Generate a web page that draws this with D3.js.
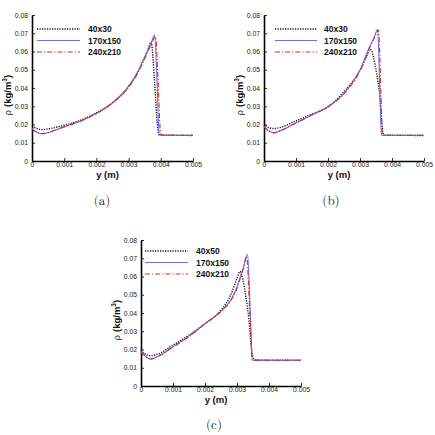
<!DOCTYPE html>
<html>
<head>
<meta charset="utf-8">
<script src="https://cdn.jsdelivr.net/npm/d3@7"></script>
<style>
  body { margin: 0; background: #fff; }
  svg { display: block; }
</style>
</head>
<body>
<div id="fig"></div>
<script>
// ---- data (x in m, rho in kg/m^3) ----
var yTicks = [0, 0.01, 0.02, 0.03, 0.04, 0.05, 0.06, 0.07, 0.08];
var xTicks = [0, 0.001, 0.002, 0.003, 0.004, 0.005];

var legendA = ["40x30", "170x150", "240x210"];
var legendB = ["40x30", "170x150", "240x210"];
var legendC = ["40x50", "170x150", "240x210"];

var aCoarse = [[0,0.019],[0.00015,0.0178],[0.0003,0.0172],[0.0005,0.0176],[0.001,0.0196],[0.0015,0.0223],[0.002,0.0264],[0.0025,0.0319],[0.003,0.0407],[0.0033,0.049],[0.0035,0.057],[0.0036,0.061],[0.0037,0.0652],[0.0038,0.045],[0.0039,0.019],[0.00395,0.0142],[0.005,0.014]];
var aMid = [[0,0.0178],[0.0001,0.0163],[0.0002,0.0154],[0.0003,0.015],[0.0004,0.0151],[0.0006,0.0161],[0.001,0.0187],[0.0015,0.0218],[0.002,0.026],[0.0025,0.0319],[0.003,0.041],[0.0033,0.0494],[0.0035,0.057],[0.0037,0.0648],[0.00381,0.069],[0.00388,0.045],[0.00395,0.0147],[0.004,0.0141],[0.005,0.0141]];
var aFine = [[0,0.0176],[0.0001,0.0162],[0.0002,0.0153],[0.0003,0.015],[0.0004,0.0152],[0.0006,0.0162],[0.001,0.0188],[0.0015,0.0219],[0.002,0.0261],[0.0025,0.0318],[0.003,0.0405],[0.0033,0.0488],[0.0035,0.056],[0.0037,0.0638],[0.00384,0.068],[0.0039,0.05],[0.004,0.0145],[0.0041,0.0141],[0.005,0.0141]];

var bCoarse = [[0,0.0205],[0.0001,0.0187],[0.0003,0.0178],[0.0005,0.0183],[0.001,0.022],[0.0015,0.0256],[0.002,0.0297],[0.0025,0.038],[0.003,0.0498],[0.0032,0.057],[0.00332,0.0612],[0.00352,0.048],[0.0036,0.0388],[0.00373,0.015],[0.0038,0.0141],[0.005,0.014]];
var bMid = [[0,0.019],[0.0001,0.0172],[0.0002,0.016],[0.0003,0.0154],[0.0005,0.0165],[0.001,0.0209],[0.0015,0.0253],[0.002,0.0297],[0.0025,0.037],[0.003,0.0498],[0.0033,0.0626],[0.00345,0.068],[0.00355,0.0722],[0.00362,0.0388],[0.00367,0.0141],[0.005,0.0141]];
var bFine = [[0,0.0188],[0.0001,0.0171],[0.0002,0.0159],[0.0003,0.0155],[0.0005,0.0166],[0.001,0.0208],[0.0015,0.0252],[0.002,0.0296],[0.0025,0.0368],[0.003,0.0494],[0.0033,0.062],[0.00345,0.0675],[0.00358,0.0718],[0.00365,0.04],[0.0037,0.0141],[0.005,0.0141]];

var cCoarse = [[0,0.0197],[0.0001,0.0178],[0.0003,0.0166],[0.0005,0.0173],[0.001,0.0224],[0.0015,0.0279],[0.002,0.0342],[0.0025,0.0415],[0.0028,0.0497],[0.003,0.059],[0.00309,0.0628],[0.00327,0.0497],[0.00337,0.037],[0.00348,0.017],[0.00356,0.0142],[0.005,0.0141]];
var cMid = [[0,0.0188],[0.0001,0.017],[0.0002,0.0155],[0.0003,0.0148],[0.0005,0.016],[0.001,0.0215],[0.0015,0.0273],[0.002,0.0342],[0.0025,0.041],[0.0028,0.047],[0.003,0.0543],[0.0031,0.0597],[0.0032,0.065],[0.00333,0.0721],[0.00342,0.0388],[0.00348,0.0142],[0.005,0.0141]];
var cFine = [[0,0.0186],[0.0001,0.0168],[0.0002,0.0154],[0.0003,0.0148],[0.0005,0.0159],[0.001,0.0213],[0.0015,0.0271],[0.002,0.034],[0.0025,0.0408],[0.0028,0.0466],[0.003,0.0535],[0.0031,0.059],[0.0032,0.0643],[0.0033,0.071],[0.0034,0.04],[0.00348,0.0142],[0.005,0.0141]];

// ---- styles ----
var seriesStyle = [
  { color: "#111111", dash: "1.2,1.3", width: 1.4 },
  { color: "#6e6ef0", dash: null, width: 1.1 },
  { color: "#d42a2a", dash: "5,2,1.2,2", width: 1.1 }
];

var svg = d3.select("#fig").append("svg")
  .attr("width", 435)
  .attr("height", 435);

function drawPanel(p) {
  var x = d3.scaleLinear().domain([0, 0.005]).range([p.left, p.right]);
  var y = d3.scaleLinear().domain([0, 0.08]).range([p.bottom, p.top]);
  var g = svg.append("g");

  // axes (ticks point inwards like the original)
  var yAxis = d3.axisLeft(y).tickValues(yTicks)
    .tickSizeInner(-3).tickSizeOuter(0).tickPadding(4)
    .tickFormat(function(d) { return d === 0 ? "0" : d3.format(".2f")(d); });
  var xAxis = d3.axisBottom(x).tickValues(xTicks)
    .tickSizeInner(-3).tickSizeOuter(0).tickPadding(2)
    .tickFormat(function(d) { return d === 0 ? "0" : d3.format(".3f")(d); });

  var ga = g.append("g").attr("transform", "translate(" + p.left + ",0)").call(yAxis);
  var gb = g.append("g").attr("transform", "translate(0," + p.bottom + ")").call(xAxis);
  [ga, gb].forEach(function(a) {
    a.select(".domain").attr("stroke", "#000").attr("stroke-width", 1.6);
    a.selectAll(".tick line").attr("stroke", "#000").attr("stroke-width", 0.8);
    a.selectAll("text").attr("font-family", "Liberation Sans, Arial, sans-serif")
      .attr("font-size", 6.8).attr("fill", "#222");
  });
  gb.selectAll("text").attr("dy", "0.6em");

  // curves
  var line = d3.line().curve(d3.curveMonotoneX)
    .x(function(d) { return x(d[0]); }).y(function(d) { return y(d[1]); });
  p.series.forEach(function(s, i) {
    var st = seriesStyle[i];
    g.append("path").datum(s)
      .attr("d", line)
      .attr("fill", "none")
      .attr("stroke", st.color)
      .attr("stroke-width", st.width)
      .attr("stroke-dasharray", st.dash);
  });

  // legend
  p.names.forEach(function(name, i) {
    var st = seriesStyle[i];
    var ly = p.top + p.legY + i * 11.5;
    g.append("line")
      .attr("x1", p.left + p.legX1).attr("x2", p.left + p.legX2)
      .attr("y1", ly).attr("y2", ly)
      .attr("stroke", st.color).attr("stroke-width", st.width)
      .attr("stroke-dasharray", st.dash);
    g.append("text")
      .attr("x", p.left + p.legT).attr("y", ly + 3)
      .attr("font-family", "Liberation Sans, Arial, sans-serif")
      .attr("font-weight", "bold").attr("font-size", 8.5)
      .attr("fill", "#111")
      .text(name);
  });

  // axis titles
  var cx = (p.left + p.right) / 2;
  g.append("text")
    .attr("x", cx - 5).attr("y", p.bottom + 16.5)
    .attr("text-anchor", "middle")
    .attr("font-family", "Liberation Sans, Arial, sans-serif")
    .attr("font-weight", "bold").attr("font-size", 9.5)
    .attr("fill", "#111")
    .text("y (m)");

  var yl = g.append("text")
    .attr("transform", "translate(" + (p.left - 21) + "," + ((p.top + p.bottom) / 2 + 7) + ") rotate(-90)")
    .attr("text-anchor", "middle")
    .attr("font-family", "Liberation Sans, Arial, sans-serif")
    .attr("font-size", 9.5).attr("fill", "#111");
  yl.append("tspan").attr("font-family", "DejaVu Serif, serif").attr("font-size", 9).text("ρ ");
  yl.append("tspan").attr("font-weight", "bold").text("(kg/m");
  yl.append("tspan").attr("font-weight", "bold").attr("font-size", 6.5).attr("dy", -4).text("3");
  yl.append("tspan").attr("font-weight", "bold").attr("dy", 4).text(")");

  // caption
  svg.append("text")
    .attr("x", p.capX).attr("y", p.capY)
    .attr("text-anchor", "middle")
    .attr("font-family", "Latin Modern Roman, DejaVu Serif, serif")
    .attr("font-size", 13).attr("fill", "#222")
    .text(p.caption);
}

drawPanel({ left: 32, right: 193, top: 15, bottom: 161, series: [aCoarse, aMid, aFine], names: legendA,
  legX1: 5, legX2: 48, legT: 56, legY: 14, caption: "(a)", capX: 102, capY: 205 });
drawPanel({ left: 264, right: 424, top: 15, bottom: 161, series: [bCoarse, bMid, bFine], names: legendB,
  legX1: 11, legX2: 53, legT: 60, legY: 14, caption: "(b)", capX: 331, capY: 205 });
drawPanel({ left: 141, right: 301, top: 240, bottom: 386, series: [cCoarse, cMid, cFine], names: legendC,
  legX1: 4, legX2: 47, legT: 55, legY: 11, caption: "(c)", capX: 214, capY: 429 });
</script>
</body>
</html>
